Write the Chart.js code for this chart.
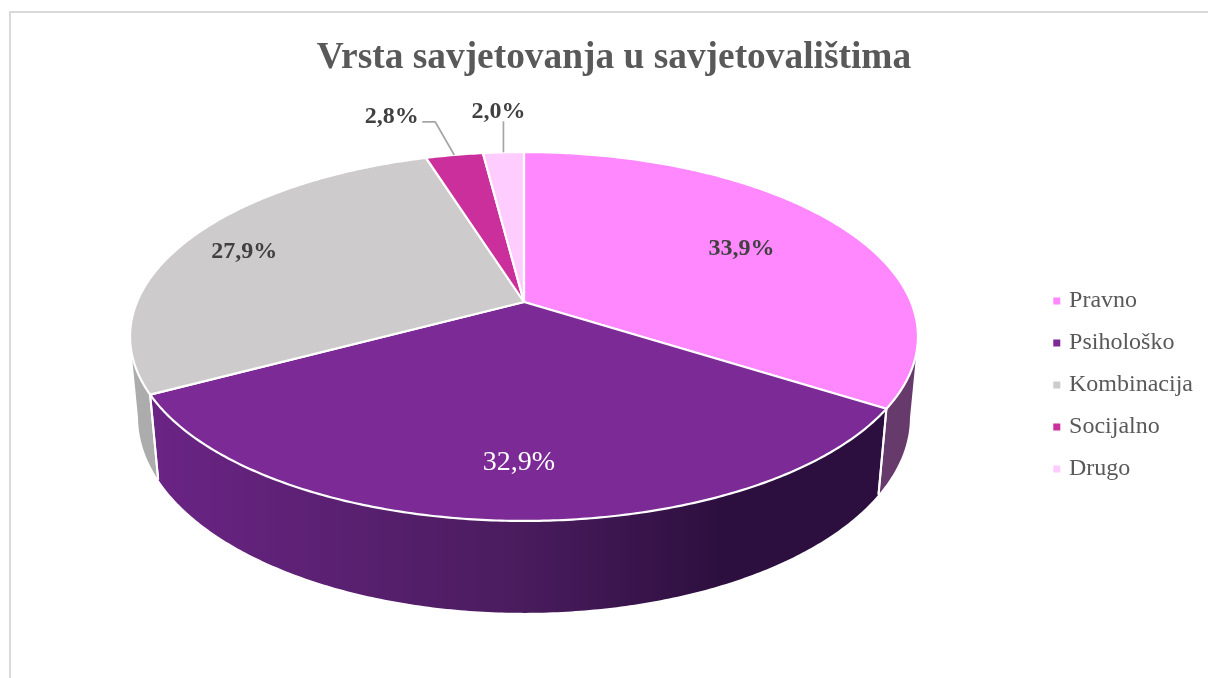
<!DOCTYPE html>
<html><head><meta charset="utf-8">
<style>
html,body{margin:0;padding:0;background:#fff;overflow:hidden;width:1208px;height:678px}
#frame{position:absolute;left:9px;top:11px;width:1300px;height:800px;border-left:2px solid #d9d9d9;border-top:2px solid #d9d9d9;box-sizing:border-box}
#wrap{position:absolute;left:10px;top:12px;width:1208px;height:678px}
</style>
<script src="https://cdn.jsdelivr.net/npm/chart.js@4"></script>
</head><body>
<div id="frame"></div>
<div id="wrap"><canvas id="c" width="1208" height="678"></canvas></div>
<script>
const titleText = 'Vrsta savjetovanja u savjetovalištima';
const categories = ['Pravno','Psihološko','Kombinacija','Socijalno','Drugo'];
const values = [33.9,32.9,27.9,2.8,2.0];
const colors = ['#ff88ff','#7b2a96','#cdcbcb','#cb2f9b','#ffccff'];
const sideStops = [[[0,'#663a6b'],[1,'#663a6b']],[[0,'#6a2484'],[0.5,'#4a1c5e'],[0.78,'#2d0f3f'],[1,'#2d0f3f']],[[0,'#acacac'],[1,'#acacac']],[[0,'#8a2069'],[1,'#8a2069']],[[0,'#b08ab0'],[1,'#b08ab0']]];
const labelRadius = [0.68,0.765,0.82,1.347,1.354];
const labelShift = [[0,2],[8,2],[-2,2],[-43,3],[1,2]];
const labelBold = [true,false,true,true,true];
const labelSize = [24,28,24,24,24];
const labelColor = ['#404040','#ffffff','#404040','#404040','#404040'];

// projected disc, page coords minus the canvas offset
const OX = 10, OY = 12;
const P = {cx:524-OX, cy:302-OY, b:387, a:178, k:-0.187, d:0.02, dv:87};
const tangent = Math.asin(-P.k);
function proj(ang, r, lower){
  const u = r*Math.cos(ang), v = r*Math.sin(ang);
  const w = 1 + P.k*v;
  const xr = P.b*u, yr = P.a*v;
  if(!lower) return [P.cx + xr/w, P.cy + yr/w];
  const wy = yr + (P.cy+OY)*w + P.dv;
  return [P.cx + xr/(w+P.d), wy/(w+P.d) - OY];
}
function traceRim(ctx, a0, a1, lower, first){
  const n = Math.max(2, Math.ceil(Math.abs(a1-a0)/0.01));
  for(let i=0;i<=n;i++){
    const t = a0 + (a1-a0)*i/n;
    const p = proj(t,1,lower);
    if(i===0 && first) ctx.moveTo(p[0],p[1]); else ctx.lineTo(p[0],p[1]);
  }
}
const pie3d = {
  id:'pie3d',
  beforeDatasetsDraw(chart){
    const ctx = chart.ctx, meta = chart.getDatasetMeta(0);
    ctx.save();
    // side walls, from silhouette tangent to silhouette tangent
    meta.data.forEach((arc,i)=>{
      const a0 = arc.startAngle, a1 = arc.endAngle;
      const s = Math.max(a0, tangent), e = Math.min(a1, Math.PI-tangent);
      if(e<=s) return;
      const g = ctx.createLinearGradient(proj(e,1,true)[0],0,proj(s,1,true)[0],0);
      sideStops[i].forEach(st=>g.addColorStop(st[0],st[1]));
      ctx.beginPath();
      traceRim(ctx,s,e,false,true);
      traceRim(ctx,e,s,true,false);
      ctx.closePath();
      ctx.fillStyle = g; ctx.fill();
    });
    // white seams on the wall
    meta.data.forEach(arc=>{
      [arc.startAngle,arc.endAngle].forEach(a=>{
        const n = ((a%(2*Math.PI))+2*Math.PI)%(2*Math.PI);
        if(n>tangent && n<Math.PI-tangent){
          const t=proj(n,1,false), b=proj(n,1,true);
          ctx.beginPath();ctx.moveTo(t[0],t[1]);ctx.lineTo(b[0],b[1]);
          ctx.strokeStyle='#fff';ctx.lineWidth=2;ctx.stroke();
        }
      });
    });
    // top faces
    meta.data.forEach((arc,i)=>{
      ctx.beginPath();
      const c = [P.cx, P.cy];
      ctx.moveTo(c[0],c[1]);
      traceRim(ctx,arc.startAngle,arc.endAngle,false,false);
      ctx.closePath();
      ctx.fillStyle = colors[i]; ctx.fill();
      ctx.strokeStyle='#fff'; ctx.lineWidth=2.2; ctx.lineJoin='round'; ctx.stroke();
    });
    // leader lines
    ctx.strokeStyle='#a6a6a6'; ctx.lineWidth=1.7;
    const m3 = meta.data[3], m4 = meta.data[4];
    const e3 = proj((m3.startAngle+m3.endAngle)/2,1,false);
    const e4 = proj((m4.startAngle+m4.endAngle)/2,1,false);
    ctx.beginPath();ctx.moveTo(e3[0],e3[1]);ctx.lineTo(e3[0]-19,e3[1]-33);ctx.lineTo(e3[0]-32,e3[1]-33);ctx.stroke();
    ctx.beginPath();ctx.moveTo(e4[0],e4[1]);ctx.lineTo(e4[0],e4[1]-31);ctx.stroke();
    // value labels
    ctx.textAlign='center'; ctx.textBaseline='middle';
    meta.data.forEach((arc,i)=>{
      const m=(arc.startAngle+arc.endAngle)/2;
      const p=proj(m,labelRadius[i],false);
      ctx.font=(labelBold[i]?'bold ':'')+labelSize[i]+'px "Liberation Serif"';
      ctx.fillStyle=labelColor[i];
      ctx.fillText(values[i].toFixed(1).replace('.',',')+'%',p[0]+labelShift[i][0],p[1]+labelShift[i][1]);
    });
    ctx.restore();
    return false;
  }
};
new Chart(document.getElementById('c'),{
  type:'pie',
  data:{labels:categories,datasets:[{data:values,backgroundColor:colors,borderWidth:0}]},
  plugins:[pie3d],
  options:{
    responsive:false,animation:false,
    layout:{padding:{left:15,right:15}},
    plugins:{
      tooltip:{enabled:false},
      title:{display:true,text:titleText,color:'#595959',align:'center',fullSize:true,
        font:{family:'"Liberation Serif"',size:37.4,weight:'bold'},
        padding:{top:24,bottom:190}},
      legend:{position:'right',align:'start',fullSize:false,
        labels:{usePointStyle:true,pointStyle:'rect',boxWidth:0.5,boxHeight:7,padding:18,color:'#595959',
          font:{family:'"Liberation Serif"',size:24}}}
    }
  }
});
</script>
</body></html>
